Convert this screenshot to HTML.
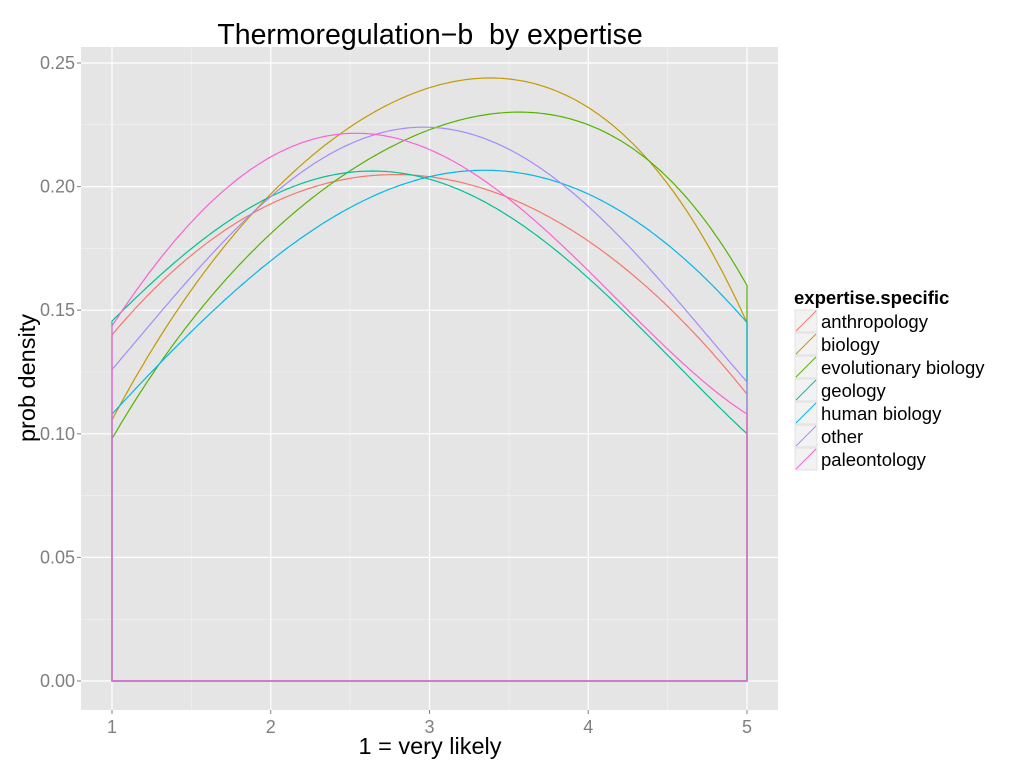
<!DOCTYPE html>
<html><head><style>body{margin:0;background:#fff}svg{display:block}</style></head><body>
<svg id="s" width="1024" height="768" xmlns="http://www.w3.org/2000/svg" font-family="Liberation Sans, sans-serif">
<rect x="81" y="47" width="697" height="663" fill="#e5e5e5"/>
<g id="grid"></g>
<g id="curves" fill="none" stroke-width="1.2"></g>
<text x="430" y="44" font-size="28.5" text-anchor="middle">Thermoregulation−b&#160; by expertise</text>
<text x="430" y="754" font-size="23.5" text-anchor="middle">1 = very likely</text>
<text transform="translate(35,378) rotate(-90)" font-size="23.5" text-anchor="middle">prob density</text>
<g id="ticks" font-size="18" fill="#7f7f7f"></g>
<g id="legend" font-size="18.5"></g>
</svg>
<script>
var NS="http://www.w3.org/2000/svg";
function X(v){return 112+(v-1)*158.75}
function Y(v){return 681-v*2472}
function el(p,t,a,txt){var e=document.createElementNS(NS,t);for(var k in a)e.setAttribute(k,a[k]);if(txt!=null)e.textContent=txt;p.appendChild(e);return e}
var g=document.getElementById('grid'),tk=document.getElementById('ticks');
for(var v=0.025;v<0.26;v+=0.05)el(g,'line',{x1:81,x2:778,y1:Y(v),y2:Y(v),stroke:'#f2f2f2','stroke-width':0.6});
for(var x=1.5;x<5;x+=1)el(g,'line',{x1:X(x),x2:X(x),y1:47,y2:710,stroke:'#f2f2f2','stroke-width':0.6});
for(var i=0;i<=5;i++){var v=i*0.05;el(g,'line',{x1:81,x2:778,y1:Y(v),y2:Y(v),stroke:'#fff','stroke-width':1.2});
el(tk,'text',{x:75,y:Y(v)+6,'text-anchor':'end'},v.toFixed(2));el(tk,'line',{x1:77,x2:81,y1:Y(v),y2:Y(v),stroke:'#7f7f7f'});}
for(var x=1;x<=5;x++){el(g,'line',{x1:X(x),x2:X(x),y1:47,y2:710,stroke:'#fff','stroke-width':1.2});
el(tk,'text',{x:X(x),y:733,'text-anchor':'middle'},x);el(tk,'line',{x1:X(x),x2:X(x),y1:710,y2:714,stroke:'#7f7f7f'});}
var S=[["anthropology","#F8766D",[.140,.193,.204,.178,.116]],
["biology","#C49A00",[.1056,.197,.240,.232,.145]],
["evolutionary biology","#53B400",[.098,.181,.223,.225,.160]],
["geology","#00C094",[.1456,.196,.203,.163,.100]],
["human biology","#00B6EB",[.108,.170,.204,.197,.145]],
["other","#A58AFF",[.126,.196,.224,.192,.121]],
["paleontology","#FB61D7",[.1436,.212,.215,.166,.108]]];
function lag(ys,x){var r=0;for(var i=0;i<5;i++){var t=ys[i];for(var j=0;j<5;j++)if(j!=i)t*=(x-(j+1))/(i-j);r+=t}return r}
var c=document.getElementById('curves'),L=document.getElementById('legend');
el(L,'text',{x:794,y:304,'font-weight':'bold'},'expertise.specific');
S.forEach(function(s,k){var d='M'+X(1)+','+Y(0)+' L';
for(var x=1;x<=5.0001;x+=0.02)d+=X(x).toFixed(1)+','+Y(lag(s[2],x)).toFixed(1)+' ';
d+=X(5)+','+Y(0)+' Z';el(c,'path',{d:d,stroke:s[1]});
var y=310+k*23;el(L,'rect',{x:795,y:y,width:22,height:22,fill:'#f2f2f2',stroke:'#ccc','stroke-width':0.5});
el(L,'line',{x1:796,y1:y+21,x2:816,y2:y+1,stroke:s[1]});
el(L,'text',{x:821,y:y+18},s[0]);});
</script>
</body></html>
